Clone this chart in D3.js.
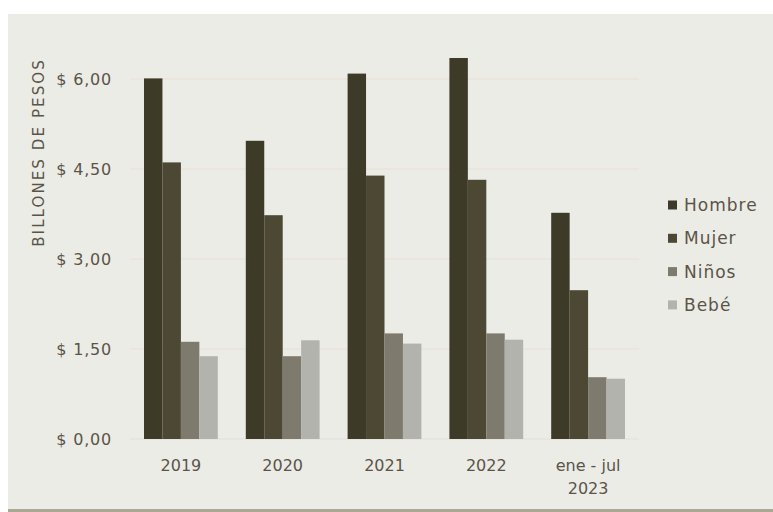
<!DOCTYPE html>
<html><head><meta charset="utf-8">
<script src="https://cdn.jsdelivr.net/npm/d3@7"></script>
<style>
html,body{margin:0;padding:0;background:#ffffff;}
svg{display:block;}
text{font-family:"DejaVu Sans","Open Sans",sans-serif;fill:#5a5448;}
</style></head>
<body><svg id="c" width="773" height="512"></svg>
<script>
const categories = ["2019","2020","2021","2022","ene - jul|2023"];
const seriesNames = ["Hombre","Mujer","Niños","Bebé"];
const hombre = [6.01, 4.97, 6.09, 6.35, 3.77];
const mujer  = [4.61, 3.73, 4.39, 4.32, 2.48];
const ninos  = [1.62, 1.38, 1.76, 1.76, 1.03];
const bebe   = [1.38, 1.645, 1.59, 1.655, 1.005];
const yTicks = [0, 1.5, 3, 4.5, 6];
const yTickLabels = ["$ 0,00","$ 1,50","$ 3,00","$ 4,50","$ 6,00"];
const colors = ["#3d3a28","#4d4833","#7e7b6e","#b3b3ad"];
const yTitle = "BILLONES DE PESOS";

const series = [hombre, mujer, ninos, bebe];
const svg = d3.select("#c");
svg.append("rect").attr("x",8).attr("y",14).attr("width",765).attr("height",495).attr("fill","#ecece7");
svg.append("rect").attr("x",8).attr("y",509).attr("width",765).attr("height",3).attr("fill","#aaa893");

const x0 = d3.scaleBand().domain(categories).range([130,639]).paddingInner(0.275).paddingOuter(0.1375);
const x1 = d3.scaleBand().domain(seriesNames).range([0,x0.bandwidth()]);
const y = d3.scaleLinear().domain([0,6]).range([439,79]);

// gridlines
svg.append("g").selectAll("line").data(yTicks).join("line")
  .attr("x1",130).attr("x2",639).attr("y1",d=>y(d)).attr("y2",d=>y(d))
  .attr("stroke",d=>d===0?"#e2ddd3":"#e8e0d4").attr("stroke-width",1.2);

// y tick labels
const yAxis = d3.axisLeft(y).tickValues(yTicks).tickSize(0).tickPadding(0)
  .tickFormat((d,i)=>yTickLabels[i]);
const ga = svg.append("g").attr("transform","translate(112,0)").call(yAxis);
ga.select(".domain").remove();
ga.selectAll("text").attr("font-size",16).attr("fill","#5a5448").attr("letter-spacing",0.8)
  .style("font-family",'"DejaVu Sans","Open Sans",sans-serif');

// y title
svg.append("text").attr("transform","translate(44,152.5) rotate(-90)")
  .attr("text-anchor","middle").attr("font-size",15).attr("letter-spacing",2.1).text(yTitle);

// bars
const g = svg.append("g");
categories.forEach((c,ci)=>{
  seriesNames.forEach((s,si)=>{
    const v = series[si][ci];
    g.append("rect")
      .attr("x",x0(c)+x1(s)).attr("width",x1.bandwidth())
      .attr("y",y(v)).attr("height",y(0)-y(v))
      .attr("fill",colors[si]);
  });
});

// x labels
const xl = svg.append("g");
categories.forEach(c=>{
  const lines = c.split("|");
  const t = xl.append("text").attr("text-anchor","middle").attr("font-size",16)
    .attr("x",x0(c)+x0.bandwidth()/2);
  lines.forEach((ln,i)=>{
    t.append("tspan").attr("x",x0(c)+x0.bandwidth()/2).attr("y",471+i*23).text(ln);
  });
});

// legend
const lg = svg.append("g");
seriesNames.forEach((s,i)=>{
  const cy = 205 + i*33.3;
  lg.append("rect").attr("x",668).attr("y",cy-4.5).attr("width",9).attr("height",9).attr("fill",colors[i]);
  lg.append("text").attr("x",684).attr("y",cy+6).attr("font-size",17).attr("letter-spacing",1).text(s);
});
</script></body></html>
